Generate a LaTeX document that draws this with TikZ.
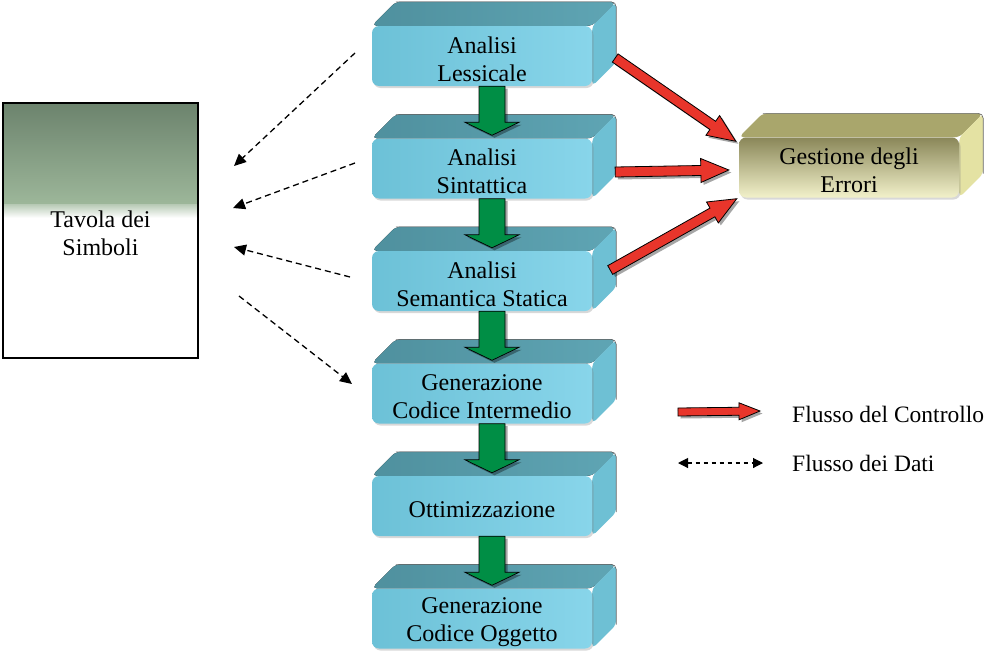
\documentclass[tikz,border=0pt]{standalone}
\usepackage{fontspec}
\setmainfont{Liberation Serif}
\newfontfamily\tnr{Liberation Serif}
\usetikzlibrary{calc,shadows,arrows.meta}
\pgfdeclarelayer{bg}
\pgfdeclarelayer{canvasbg}
\pgfsetlayers{canvasbg,bg,main}
\definecolor{boxL}{HTML}{6CC1D7}
\definecolor{boxR}{HTML}{88D5EA}
\definecolor{boxTopL}{HTML}{4F909E}
\definecolor{boxTopR}{HTML}{5FA5B4}
\definecolor{boxSide}{HTML}{6EC0D4}
\definecolor{gestTop}{HTML}{8A8759}
\definecolor{gestBot}{HTML}{F2F1CA}
\definecolor{gestTopFace}{HTML}{A9A66C}
\definecolor{gestSide}{HTML}{E4E2A3}
\definecolor{arrRed}{HTML}{E8352B}
\definecolor{arrGreen}{HTML}{008E45}
\definecolor{tavTop}{HTML}{6C836D}
\definecolor{tavMid}{HTML}{9DB79A}
\newcommand\tup{\rule{0pt}{23pt}}
\newcommand\slabfaces[3]{%
  \begin{pgfonlayer}{bg}
    \fill[#2,rounded corners=5pt] (#1.north west) -- ++(24,-24) -- ($(#1.north east)+(24,-24)$) -- (#1.north east) -- cycle;
    \fill[#3,rounded corners=5pt] (#1.north east) -- ++(24,-24) -- ($(#1.south east)+(24,-24)$) -- (#1.south east) -- cycle;
    \draw[black!60,line width=0.6pt,rounded corners=5pt] ($(#1.north west)+(24,-24)$) -- ($(#1.north east)+(24,-24)$) -- ($(#1.south east)+(24,-24)$);
  \end{pgfonlayer}}
\newcommand\blockarr[6]{%
  \coordinate (bac) at ($(#3)!#6!(#2)$);%
  \def\bapath{($(#2)!#4!90:(#3)$) -- ($(bac)!#4!90:(#3)$) -- ($(bac)!#5!90:(#3)$) -- (#3) -- ($(bac)!#5!-90:(#3)$) -- ($(bac)!#4!-90:(#3)$) -- ($(#2)!#4!-90:(#3)$) -- cycle}%
  \fill[black,opacity=.35,transform canvas={shift={(2.5pt,-2.5pt)}}] \bapath;%
  \draw[#1] \bapath;}
\tikzset{
  slab/.style={minimum width=220pt, minimum height=60pt, inner sep=0pt, rounded corners=7pt,
    align=center, font=\tnr\fontsize{24}{28}\selectfont},
  bluefront/.style={slab, left color=boxL, right color=boxR,
    drop shadow={shadow xshift=1.5pt, shadow yshift=-2pt, opacity=.3}},
  bluetop/.style={left color=boxTopL, right color=boxTopR},
  blueside/.style={boxSide},
  gestfront/.style={slab, top color=gestTop, bottom color=gestBot,
    drop shadow={shadow xshift=1.5pt, shadow yshift=-2pt, opacity=.3}},
  garr/.style={fill=arrGreen, draw=black, line width=0.7pt},
  rarr/.style={fill=arrRed, draw=black, line width=0.8pt},
  darr/.style={dash pattern=on 6pt off 4pt, line width=1.3pt, -{Triangle[length=12pt,width=11pt]}},
  legtext/.style={anchor=base west, font=\tnr\fontsize{23.5}{28}\selectfont, inner sep=0pt}
}
\begin{document}
\begin{tikzpicture}[x=1pt,y=-1pt]
\useasboundingbox (0,0) rectangle (995,653);
\begin{pgfonlayer}{canvasbg}
\fill[white] (0,0) rectangle (995,653);
\end{pgfonlayer}

% Tavola dei Simboli
\node[minimum width=195pt, minimum height=255pt, inner sep=0pt, align=center,
      font=\tnr\fontsize{24}{28}\selectfont] (tav) at (100.5,230.5) {\tup Tavola dei\\Simboli};
\begin{pgfonlayer}{bg}
  \shade[top color=tavTop, bottom color=tavMid] (tav.north west) rectangle ($(tav.north east)+(0,102)$);
  \shade[top color=tavMid!70!white, bottom color=white] ($(tav.north west)+(0,102)$) rectangle ($(tav.north east)+(0,115)$);
\end{pgfonlayer}
\draw[line width=2pt] (tav.north west) rectangle (tav.south east);

% pipeline boxes
\node[bluefront] (b1) at (482,56) {\tup Analisi\\Lessicale};
\slabfaces{b1}{bluetop}{blueside}
\node[bluefront] (b2) at (482,168.5) {\tup Analisi\\Sintattica};
\slabfaces{b2}{bluetop}{blueside}
\node[bluefront] (b3) at (482,281) {\tup Analisi\\Semantica Statica};
\slabfaces{b3}{bluetop}{blueside}
\node[bluefront] (b4) at (482,393.5) {\tup Generazione\\Codice Intermedio};
\slabfaces{b4}{bluetop}{blueside}
\node[bluefront] (b5) at (482,506) {\tup Ottimizzazione};
\slabfaces{b5}{bluetop}{blueside}
\node[bluefront] (b6) at (482,618.5) {\tup Generazione\\Codice Oggetto};
\slabfaces{b6}{bluetop}{blueside}

% error handling box
\node[gestfront] (gest) at (849,167.5) {\tup Gestione degli\\Errori};
\slabfaces{gest}{gestTopFace}{gestSide}

% green control arrows
\foreach \i/\j in {1/2,2/3,3/4,4/5,5/6}{
  \coordinate (gs\i) at ([xshift=10pt]b\i.south);
  \coordinate (ge\i) at ([xshift=10pt,yshift=3pt]b\j.north);
  \blockarr{garr}{gs\i}{ge\i}{13pt}{27pt}{13pt}
}

% red arrows to error handling
\coordinate (r1s) at ($(b1.east)+(23,2)$);
\coordinate (r1e) at ($(gest.north west)+(-3,4)$);
\coordinate (r2s) at ($(b2.east)+(23,3.5)$);
\coordinate (r2e) at ($(gest.west)+(-10,2.5)$);
\coordinate (r3s) at ($(b3.east)+(18,-11)$);
\coordinate (r3e) at ($(gest.south west)+(-2,1)$);
\blockarr{rarr}{r1s}{r1e}{5pt}{12pt}{28pt}
\blockarr{rarr}{r2s}{r2e}{5pt}{12pt}{28pt}
\blockarr{rarr}{r3s}{r3e}{5pt}{12pt}{28pt}

% data flow arrows
\coordinate (d1s) at (355,53);  \coordinate (d1e) at (234,166);
\coordinate (d2s) at (355,163); \coordinate (d2e) at (233,208);
\coordinate (d3s) at (350,277); \coordinate (d3e) at (234,247);
\coordinate (d4s) at (239,296); \coordinate (d4e) at (352,384);
\draw[darr] (d1s) -- (d1e);
\draw[darr] (d2s) -- (d2e);
\draw[darr] (d3s) -- (d3e);
\draw[darr] (d4s) -- (d4e);

% legend
\coordinate (lc1) at (678,412);
\coordinate (lc2) at (760,411);
\blockarr{rarr}{lc1}{lc2}{4pt}{8.5pt}{21pt}
\node[legtext] (l1) at (792,422) {Flusso del Controllo};
\coordinate (ld1) at (678,463);
\coordinate (ld2) at (763,463);
\draw[dash pattern=on 4pt off 4pt, line width=1.1pt,
      {Triangle[length=10pt,width=10pt]}-{Triangle[length=10pt,width=10pt]}] (ld1) -- (ld2);
\node[legtext] (l2) at (792,471) {Flusso dei Dati};
\end{tikzpicture}
\end{document}
